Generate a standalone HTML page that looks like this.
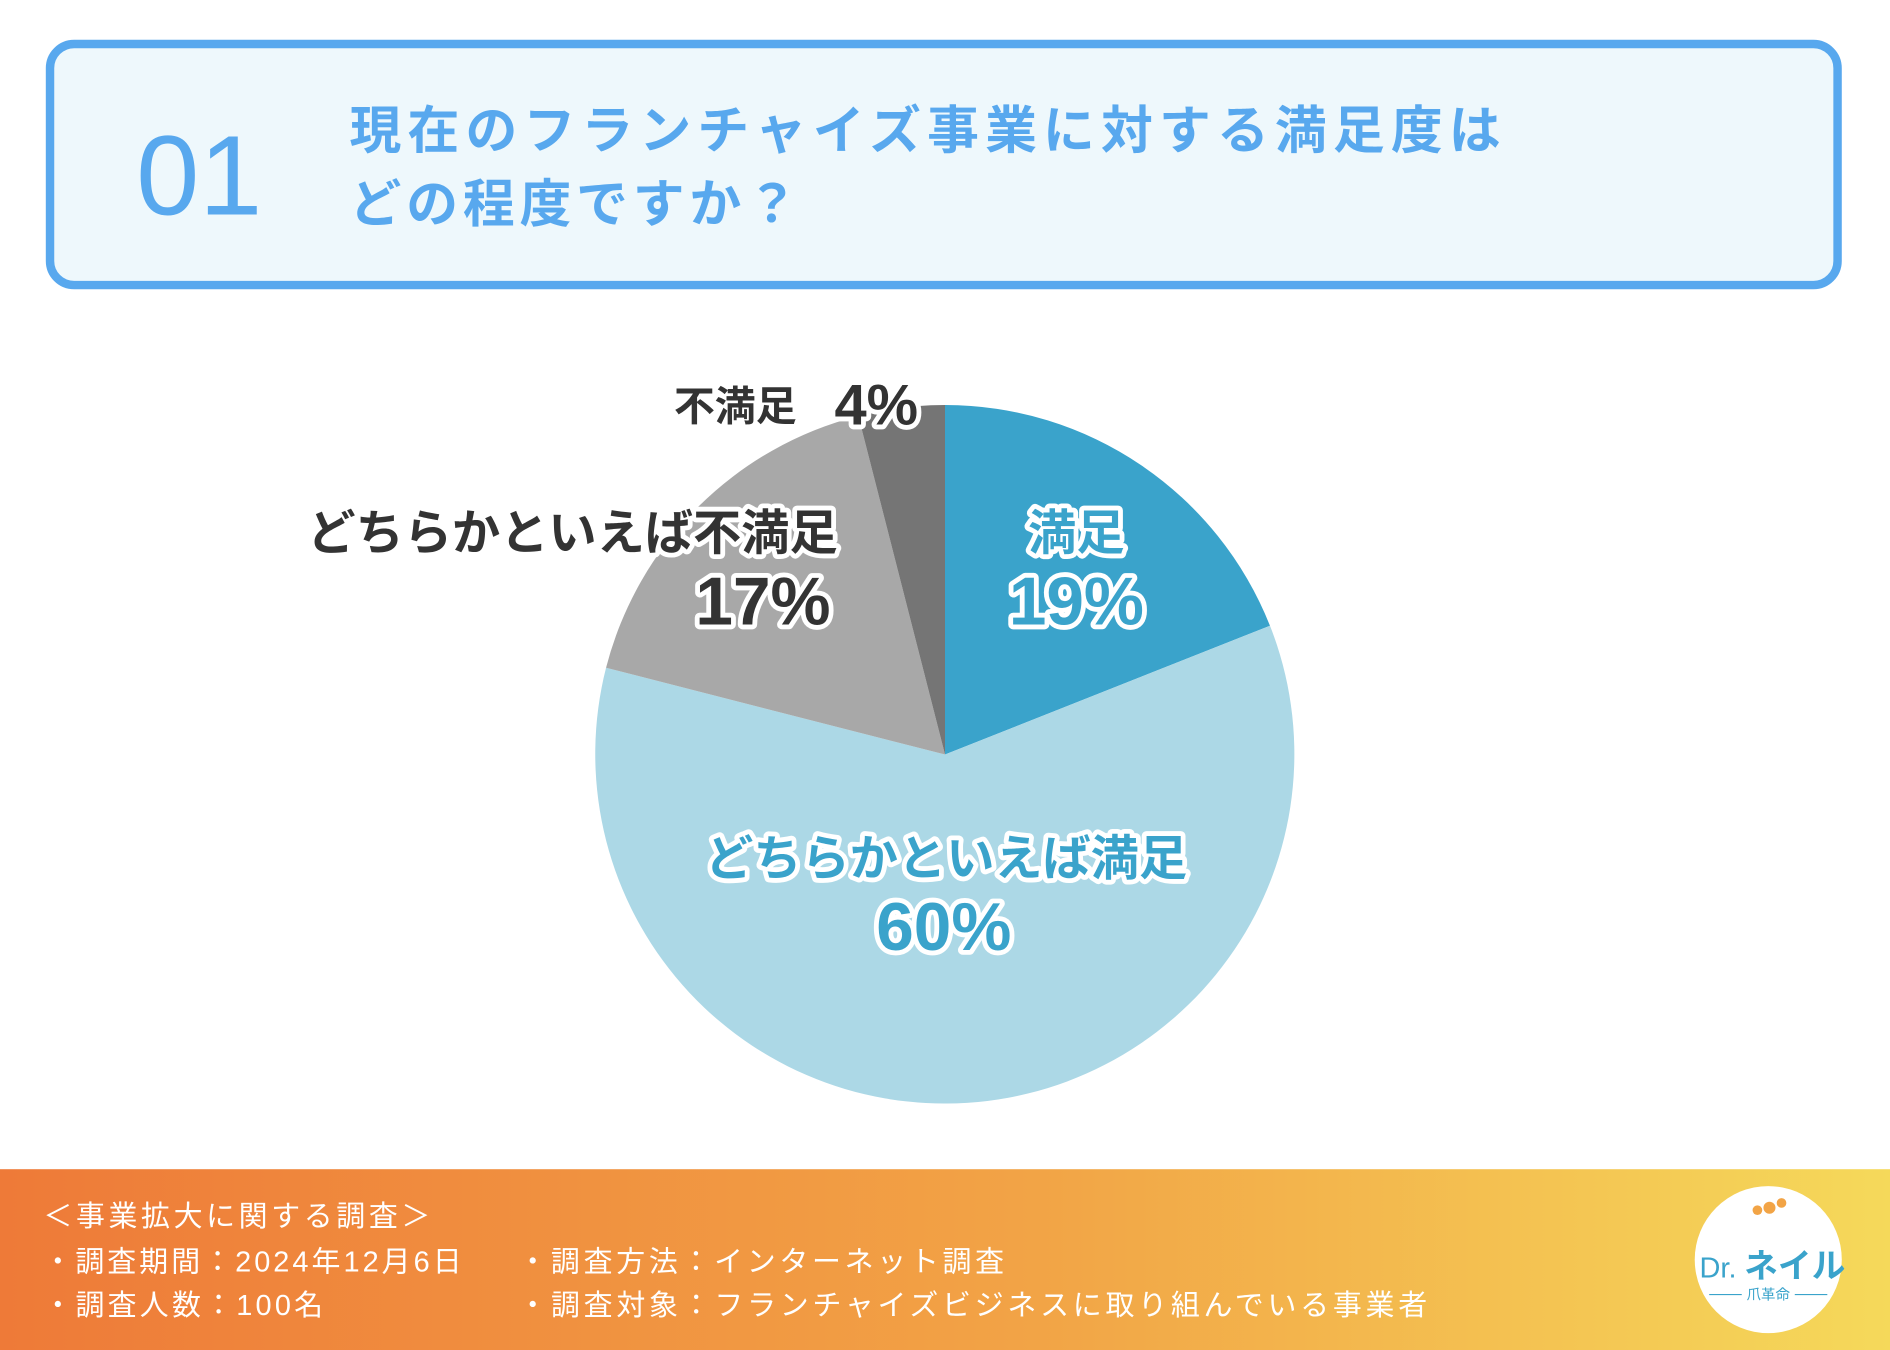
<!DOCTYPE html>
<html><head><meta charset="utf-8"><style>
html,body{margin:0;padding:0;width:1890px;height:1350px;overflow:hidden;background:#fff}
svg{display:block}
text{font-family:"Liberation Sans","Noto Sans CJK JP",sans-serif}
</style></head><body>
<svg width="1890" height="1350" viewBox="0 0 1568 1120" xmlns="http://www.w3.org/2000/svg">
<defs>
<linearGradient id="g" x1="0" x2="1" y1="0" y2="0">
<stop offset="0" stop-color="#ee7a38"/><stop offset="0.55" stop-color="#f2a446"/><stop offset="1" stop-color="#f5d95a"/>
</linearGradient>
</defs>
<rect x="0" y="0" width="1568" height="1120" fill="#fff"/>
<rect x="41.5" y="36.5" width="1483" height="200" rx="20" fill="#eef8fc" stroke="#58a8ee" stroke-width="7"/>
<text x="113" y="178" font-size="94" fill="#58a8ee" font-weight="300">01</text>
<text x="290" y="123" font-size="43" font-weight="bold" fill="#58a8ee" textLength="955" lengthAdjust="spacing">現在のフランチャイズ事業に対する満足度は</text>
<text x="290" y="184" font-size="43" font-weight="bold" fill="#58a8ee" textLength="372" lengthAdjust="spacing">どの程度ですか？</text>

<g>
<path d="M784,626 L784,336 A290,290 0 0 1 1053.6,519.1 Z" fill="#3aa3cb"/>
<path d="M784,626 L1053.6,519.1 A290,290 0 1 1 502.8,554.0 Z" fill="#acd8e6"/>
<path d="M784,626 L502.8,554.0 A290,290 0 0 1 712.1,345.1 Z" fill="#a8a8a8"/>
<path d="M784,626 L712.1,345.1 A290,290 0 0 1 784,336 Z" fill="#757575"/>
</g>

<g font-weight="bold" stroke="#fff" stroke-width="8" stroke-linejoin="round" paint-order="stroke" text-anchor="middle">
<text x="610" y="349" font-size="34" fill="#333">不満足</text>
<text x="727" y="352" font-size="48" fill="#333">4%</text>
<text x="475" y="456" font-size="40" fill="#333">どちらかといえば不満足</text>
<text x="633" y="518" font-size="56" fill="#333">17%</text>
<text x="893" y="456" font-size="40" fill="#3aa3cb">満足</text>
<text x="893" y="518" font-size="56" fill="#3aa3cb">19%</text>
<text x="785" y="726" font-size="40" fill="#3aa3cb">どちらかといえば満足</text>
<text x="783" y="788" font-size="56" fill="#3aa3cb">60%</text>
</g>

<rect x="0" y="970" width="1568" height="150" fill="url(#g)"/>
<g font-size="24" fill="#fff" lengthAdjust="spacing">
<text x="36" y="1017" textLength="321" lengthAdjust="spacing">＜事業拡大に関する調査＞</text>
<text x="36" y="1055" textLength="347" lengthAdjust="spacing">・調査期間：2024年12月6日</text>
<text x="36" y="1091" textLength="232" lengthAdjust="spacing">・調査人数：100名</text>
<text x="430" y="1055" textLength="403" lengthAdjust="spacing">・調査方法：インターネット調査</text>
<text x="430" y="1091" textLength="754" lengthAdjust="spacing">・調査対象：フランチャイズビジネスに取り組んでいる事業者</text>
</g>
<circle cx="1467" cy="1045" r="61" fill="#fff"/>
<text x="1410" y="1060" font-size="24" fill="#3aa3cb">Dr.</text>
<text x="1447" y="1060" font-size="28" fill="#3aa3cb" font-weight="bold">ネイル</text>
<text x="1467" y="1078" font-size="12" fill="#3aa3cb" text-anchor="middle">爪革命</text>
<line x1="1418" y1="1074" x2="1445" y2="1074" stroke="#3aa3cb" stroke-width="1"/>
<line x1="1489" y1="1074" x2="1516" y2="1074" stroke="#3aa3cb" stroke-width="1"/>
<circle cx="1468" cy="1002" r="5" fill="#f2a446"/>
<circle cx="1478" cy="998" r="4" fill="#f2a446"/>
<circle cx="1458" cy="1004" r="4" fill="#f2a446"/>
</svg>
</body></html>
